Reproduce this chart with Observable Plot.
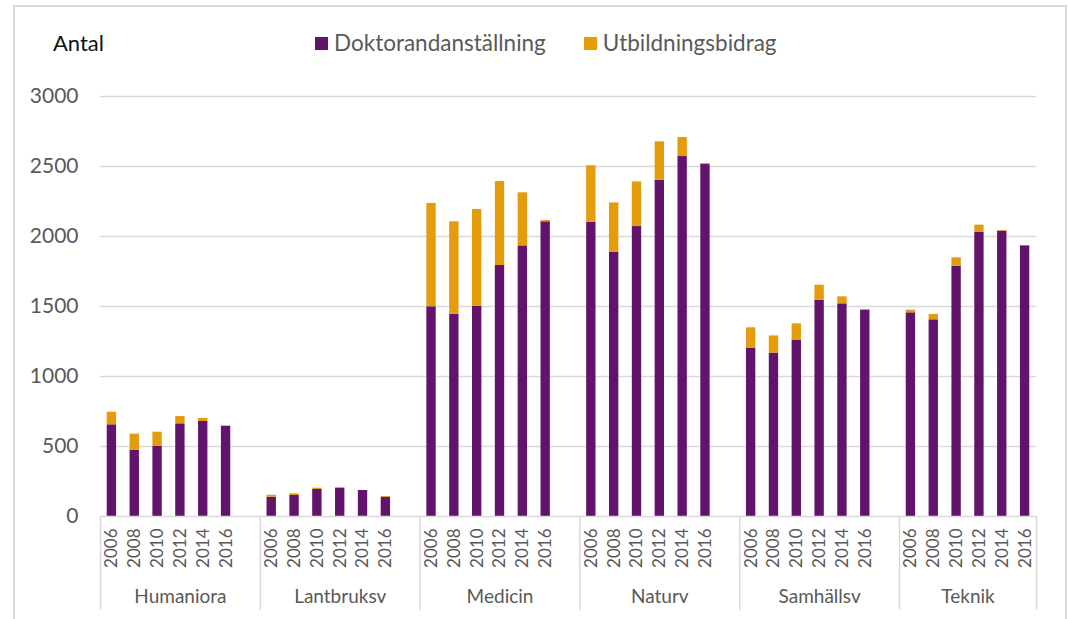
<!DOCTYPE html>
<html>
<head>
<meta charset="utf-8">
<script src="https://cdn.jsdelivr.net/npm/d3@7"></script>
<script src="https://cdn.jsdelivr.net/npm/@observablehq/plot@0.6"></script>
<style>
  html, body { margin: 0; padding: 0; background: #fff; }
  #wrap { position: relative; width: 1069px; height: 619px; overflow: hidden; font-family: Lato, "Open Sans", sans-serif; }
  #frame { position: absolute; left: 13px; top: 5px; width: 1054px; height: 640px; border: 2px solid #d9d9d9; box-sizing: border-box; }
  #chart { position: absolute; left: 0; top: 0; }
  #antal { position: absolute; left: 53px; top: 30px; font-size: 22px; color: #111; line-height: 26px; }
  #legend { position: absolute; left: 315px; top: 30px; display: flex; align-items: center; font-size: 22.5px; color: #595959; line-height: 26px; }
  .item { display: flex; align-items: center; margin-right: 38px; }
  .sw { width: 13px; height: 13px; margin-right: 6px; }
</style>
</head>
<body>
<div id="wrap">
  <div id="frame"></div>
  <div id="chart"></div>
  <div id="antal">Antal</div>
  <div id="legend"></div>
</div>
<script>
const groups = ["Humaniora", "Lantbruksv", "Medicin", "Naturv", "Samhällsv", "Teknik"];
const years = ["2006", "2008", "2010", "2012", "2014", "2016"];
const seriesNames = ["Doktorandanställning", "Utbildningsbidrag"];
const seriesColors = ["#62136b", "#e59c0a"];
const yTicks = [0, 500, 1000, 1500, 2000, 2500, 3000];

// values, group-major (Humaniora 2006..2016, Lantbruksv 2006..2016, ...)
const doktorand = [
  655, 474, 502, 662, 679, 645,
  138, 150, 193, 202, 186, 138,
  1498, 1445, 1502, 1793, 1933, 2105,
  2102, 1888, 2071, 2402, 2571, 2514,
  1203, 1167, 1260, 1545, 1519, 1474,
  1455, 1405, 1788, 2029, 2038, 1933
];
const utbildningsbidrag = [
  90, 114, 100, 52, 21, 0,
  14, 12, 9, 5, 0, 5,
  738, 660, 691, 600, 379, 9,
  403, 352, 319, 274, 136, 7,
  145, 123, 116, 107, 50, 5,
  19, 38, 60, 52, 5, 0
];

// category domain with empty slots between groups
const xDomain = [];
groups.forEach((g, i) => {
  years.forEach(y => xDomain.push(g + " " + y));
  if (i < groups.length - 1) xDomain.push("gap" + i);
});
const yearKeys = xDomain.filter(k => !k.startsWith("gap"));

const rows = [];
[doktorand, utbildningsbidrag].forEach((vals, s) => {
  groups.forEach((g, gi) => years.forEach((y, yi) => {
    rows.push({key: g + " " + y, series: seriesNames[s], value: vals[gi * years.length + yi]});
  }));
});

const W = 1069, H = 619, mt = 96, mb = 103, ml = 100, mr = 33;
const xOpts = {type: "band", domain: xDomain, paddingInner: 0.59, paddingOuter: 0.295, align: 0.5};
const xs = Plot.scale({x: {...xOpts, range: [ml, W - mr]}});
const step = xs.step;

const groupStarts = groups.map(g => g + " " + years[0]);
const lastKey = groups[groups.length - 1] + " " + years[years.length - 1];
const labelsFull = groups.slice(0, -1).map(g => ({key: g + " " + years[3], name: g}));
const labelLast = [{key: groups[groups.length - 1] + " " + years[2], name: groups[groups.length - 1]}];

const plotH = H - mt - mb;
const sepStyle = {stroke: "#d9d9d9", strokeWidth: 1.5, insetTop: plotH, insetBottom: -94};

const chart = Plot.plot({
  width: W, height: H,
  marginTop: mt, marginBottom: mb, marginLeft: ml, marginRight: mr,
  style: {fontFamily: "Lato, 'Open Sans', sans-serif", background: "transparent", overflow: "visible"},
  x: {...xOpts, axis: null, label: null},
  y: {domain: [0, 3000], axis: null, label: null},
  color: {domain: seriesNames, range: seriesColors},
  marks: [
    Plot.ruleY(yTicks.filter(d => d > 0), {stroke: "#d9d9d9", strokeWidth: 1.5}),
    Plot.barY(rows, {x: "key", y: "value", fill: "series"}),
    Plot.ruleY([0], {stroke: "#d9d9d9", strokeWidth: 1.5}),
    Plot.ruleX(groupStarts, {x: d => d, dx: -step / 2, ...sepStyle}),
    Plot.ruleX([lastKey], {x: d => d, dx: step / 2, ...sepStyle}),
    Plot.axisX(yearKeys, {tickSize: 0, tickPadding: 12, tickRotate: -90, tickFormat: d => d.split(" ")[1], fontSize: 17, fill: "#595959", label: null}),
    Plot.text(labelsFull, {x: "key", text: "name", frameAnchor: "bottom", dy: 86, fontSize: 19, fill: "#595959"}),
    Plot.text(labelLast, {x: "key", text: "name", frameAnchor: "bottom", dy: 86, dx: step / 2, fontSize: 19, fill: "#595959"}),
    Plot.axisY(yTicks, {tickSize: 0, tickPadding: 22, tickFormat: d => String(d), fontSize: 21, fill: "#595959", label: null})
  ]
});
document.getElementById("chart").appendChild(chart);

const legend = document.getElementById("legend");
seriesNames.forEach((n, i) => {
  const it = document.createElement("div");
  it.className = "item";
  const sw = document.createElement("span");
  sw.className = "sw";
  sw.style.background = seriesColors[i];
  const t = document.createElement("span");
  t.textContent = n;
  it.appendChild(sw); it.appendChild(t);
  legend.appendChild(it);
});
</script>
</body>
</html>
